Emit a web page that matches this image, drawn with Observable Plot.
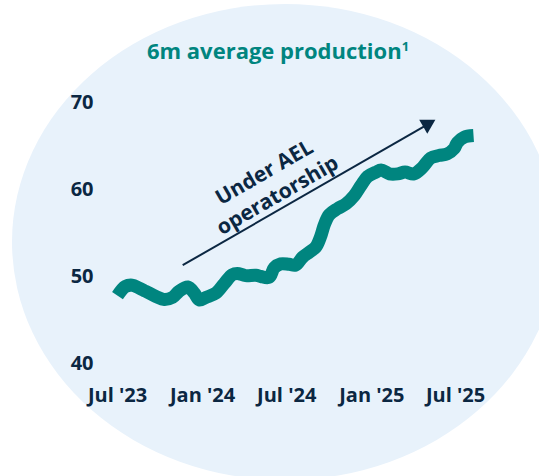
<!DOCTYPE html>
<html><head><meta charset="utf-8">
<script src="https://cdn.jsdelivr.net/npm/d3@7"></script>
<script src="https://cdn.jsdelivr.net/npm/@observablehq/plot@0.6"></script>
<style>
html,body{margin:0;padding:0;background:#fff;}
#wrap{position:relative;width:539px;height:476px;overflow:hidden;font-family:"Open Sans",sans-serif;}
#bg{position:absolute;left:12px;top:4px;width:546px;height:476px;border-radius:50%;background:#e8f2fb;}
#title{position:absolute;left:0;width:556px;top:35px;line-height:30px;text-align:center;font-weight:700;font-size:22px;color:#00857f;white-space:nowrap;}
#title span{font-size:13px;position:relative;top:-8px;}
#chart{position:absolute;left:0;top:0;}
</style></head><body>
<div id="wrap"><div id="bg"></div><div id="title">6m average production<span>1</span></div><div id="chart"></div></div>
<script>
const dates = ["2023-07-01","2023-07-18","2023-08-02","2023-08-16","2023-08-31","2023-09-22","2023-10-10","2023-10-28","2023-11-11","2023-11-30","2023-12-14","2023-12-25","2024-01-08","2024-01-30","2024-02-17","2024-03-05","2024-03-16","2024-04-03","2024-04-25","2024-05-06","2024-05-24","2024-06-04","2024-06-18","2024-07-06","2024-07-20","2024-08-04","2024-08-19","2024-09-02","2024-09-13","2024-09-20","2024-10-01","2024-10-19","2024-11-06","2024-11-24","2024-12-09","2024-12-23","2025-01-10","2025-01-21","2025-02-08","2025-02-26","2025-03-14","2025-04-02","2025-04-20","2025-05-08","2025-05-26","2025-06-13","2025-06-28","2025-07-05","2025-07-19","2025-08-09"];
const values = [47.8,48.85,49.0,48.7,48.3,47.7,47.35,47.6,48.3,48.8,48.1,47.3,47.6,48.1,49.2,50.2,50.35,50.1,50.15,50.0,49.9,51.0,51.45,51.4,51.3,52.2,52.8,53.4,54.7,55.9,57.1,57.8,58.35,59.3,60.5,61.5,62.0,62.25,61.8,61.8,62.0,61.8,62.5,63.6,63.9,64.1,64.7,65.4,66.0,66.2];
const xTickDates = ["2023-07-01","2024-01-01","2024-07-01","2025-01-01","2025-07-01"];
const xTickLabels = ["Jul '23","Jan '24","Jul '24","Jan '25","Jul '25"];
const yTicks = [40,50,60,70];
const arrowStart = {date:"2023-11-19", value:51.3};
const arrowEnd = {date:"2025-05-01", value:67.47};
const noteText = "Under AEL\noperatorship";
const notePos = {date:"2024-05-26", value:60.8};

const data = dates.map((d,i)=>({date:new Date(d), value:values[i]}));
const tickDates = xTickDates.map(d=>new Date(d));
const labelMap = new Map(tickDates.map((d,i)=>[+d, xTickLabels[i]]));
const arrow = [{x1:new Date(arrowStart.date), y1:arrowStart.value, x2:new Date(arrowEnd.date), y2:arrowEnd.value}];
const navy = "#0b2742";

const chart = Plot.plot({
  width:539, height:476,
  marginLeft:117, marginRight:84, marginTop:102, marginBottom:113,
  style:{background:"transparent", fontFamily:"'Open Sans', sans-serif", fontWeight:700, fontSize:"20px", color:navy, overflow:"visible"},
  x:{type:"utc", domain:[tickDates[0], tickDates[tickDates.length-1]]},
  y:{domain:[40,70]},
  marks:[
    Plot.axisX({ticks:tickDates, tickFormat:d=>labelMap.get(+d), tickSize:0, tickPadding:24, label:null, fontSize:20}),
    Plot.axisY({ticks:yTicks, tickSize:0, tickPadding:24, label:null, fontSize:20}),
    Plot.line(data,{x:"date", y:"value", stroke:"#00857f", strokeWidth:13, strokeLinejoin:"round", strokeLinecap:"butt", curve:"catmull-rom"}),
    Plot.link(arrow,{x1:"x1", y1:"y1", x2:"x2", y2:"y2", stroke:navy, strokeWidth:2}),
    Plot.dot(arrow,{x:"x2", y:"y2", symbol:"triangle", r:6, fill:navy, stroke:null, rotate:60}),
    Plot.text([notePos],{x:d=>new Date(d.date), y:"value", text:()=>noteText, rotate:-30, fontSize:21, fontWeight:700, lineHeight:1.26, fill:navy, textAnchor:"middle", lineAnchor:"middle"})
  ]
});
document.getElementById("chart").appendChild(chart);
</script>
</body></html>
